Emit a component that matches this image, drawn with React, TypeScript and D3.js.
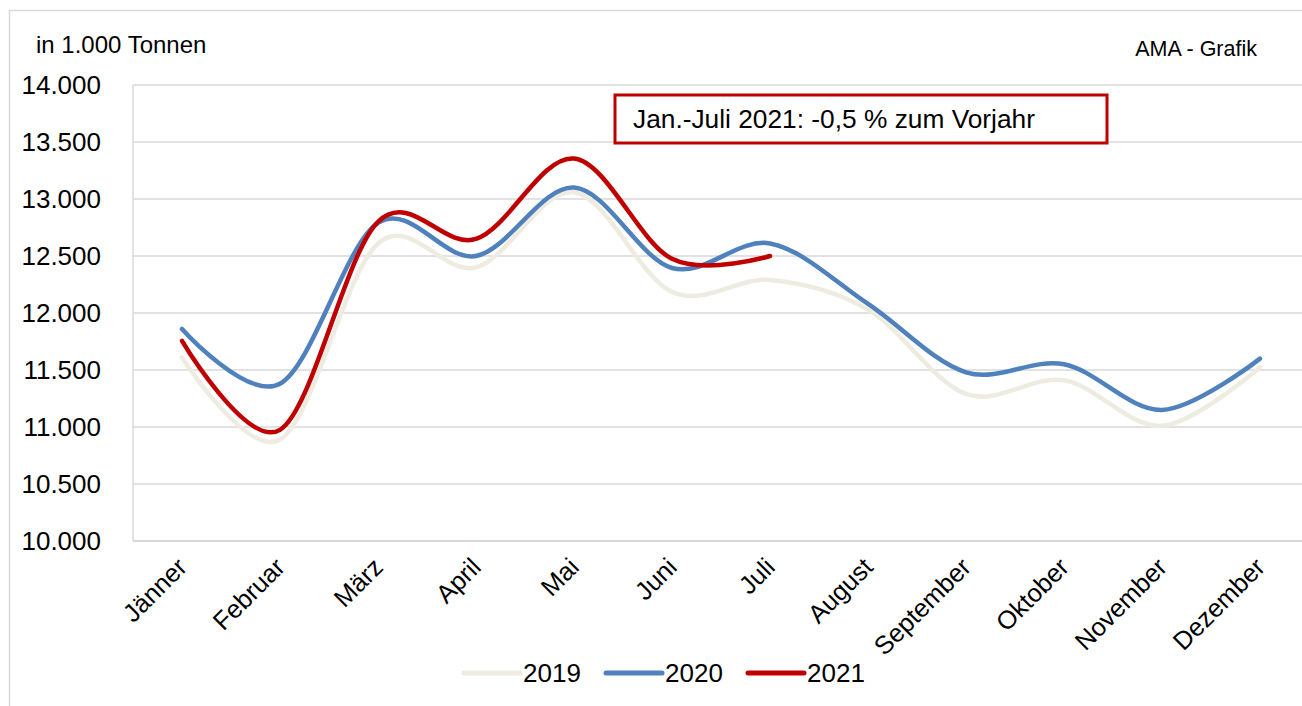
import React from "react";
import * as d3 from "d3";

const months = ["Jänner", "Februar", "März", "April", "Mai", "Juni", "Juli", "August", "September", "Oktober", "November", "Dezember"];
const yTicks = [10000, 10500, 11000, 11500, 12000, 12500, 13000, 13500, 14000];
const values2019 = [11610, 10890, 12610, 12400, 13060, 12185, 12290, 12030, 11290, 11410, 11010, 11525];
const values2020 = [11860, 11380, 12790, 12500, 13100, 12395, 12610, 12080, 11480, 11550, 11150, 11600];
const values2021 = [11755, 10975, 12800, 12650, 13355, 12475, 12500];
const seriesNames = ["2019", "2020", "2021"];
const seriesColors = ["#EEECE1", "#4F81BD", "#C00000"];

export default function App() {
    const ref = React.useRef(null);

    React.useEffect(() => {
        const svg = d3.select(ref.current);
        svg.selectAll("*").remove();
        const font = "'Liberation Sans', Arial, sans-serif";

        const left = 133, top = 85, bottom = 541;
        const x = d3.scaleBand().domain(months).range([left, left + 98 * 12]);
        const y = d3.scaleLinear().domain([10000, 14000]).range([bottom, top]);

        // outer frame
        svg.append("rect")
            .attr("x", 9.5).attr("y", 10.5)
            .attr("width", 1400).attr("height", 800)
            .attr("fill", "white").attr("stroke", "#d9d9d9").attr("stroke-width", 1.5);

        // gridlines
        svg.append("g").selectAll("line").data(yTicks).join("line")
            .attr("x1", left).attr("x2", 1310)
            .attr("y1", (d) => y(d)).attr("y2", (d) => y(d))
            .attr("stroke", "#d9d9d9").attr("stroke-width", d => d === 10000 ? 2 : 1.5);
        svg.append("line")
            .attr("x1", left).attr("x2", left).attr("y1", top).attr("y2", bottom)
            .attr("stroke", "#d9d9d9").attr("stroke-width", 1.5);

        // y labels
        const fmt = (d) => d3.format(",")(d).replace(",", ".");
        svg.append("g").selectAll("text").data(yTicks).join("text")
            .attr("x", 101).attr("y", (d) => y(d) + 9)
            .attr("text-anchor", "end")
            .attr("font-family", font).attr("font-size", 26)
            .text(fmt);

        // x labels
        svg.append("g").selectAll("text").data(months).join("text")
            .attr("transform", (d) => `translate(${x(d) + x.bandwidth() / 2 - 6},${556}) rotate(-45)`)
            .attr("text-anchor", "end")
            .attr("dy", "0.7em")
            .attr("font-family", font).attr("font-size", 25.5)
            .text((d) => d);

        svg.append("text").attr("x", 36).attr("y", 53)
            .attr("font-family", font).attr("font-size", 24).text("in 1.000 Tonnen");
        svg.append("text").attr("x", 1257).attr("y", 56).attr("text-anchor", "end")
            .attr("font-family", font).attr("font-size", 21.5).text("AMA - Grafik");

        // lines
        const line = d3.line()
            .x((d, i) => x(months[i]) + x.bandwidth() / 2)
            .y((d) => y(d))
            .curve(d3.curveCardinal.tension(0));
        [values2019, values2020, values2021].forEach((vals, i) => {
            svg.append("path")
                .datum(vals)
                .attr("fill", "none")
                .attr("stroke", seriesColors[i])
                .attr("stroke-width", 4.5)
                .attr("stroke-linecap", "round")
                .attr("d", line);
        });

        // annotation box
        svg.append("rect")
            .attr("x", 615).attr("y", 95).attr("width", 492).attr("height", 48)
            .attr("fill", "white").attr("stroke", "#C00000").attr("stroke-width", 3);
        svg.append("text").attr("x", 633).attr("y", 128)
            .attr("font-family", font).attr("font-size", 26.3)
            .text("Jan.-Juli 2021: -0,5 % zum Vorjahr");

        // legend
        const legendX = [464, 606, 748];
        seriesNames.forEach((name, i) => {
            svg.append("line")
                .attr("x1", legendX[i]).attr("x2", legendX[i] + 56)
                .attr("y1", 673).attr("y2", 673)
                .attr("stroke", seriesColors[i]).attr("stroke-width", 5)
                .attr("stroke-linecap", "round");
            svg.append("text").attr("x", legendX[i] + 59).attr("y", 682)
                .attr("font-family", font).attr("font-size", 26).text(name);
        });
    }, []);

    return (
        <svg ref={ref} width={1302} height={706}
            style={{ position: "absolute", left: 0, top: 0, background: "white" }} />
    );
}
